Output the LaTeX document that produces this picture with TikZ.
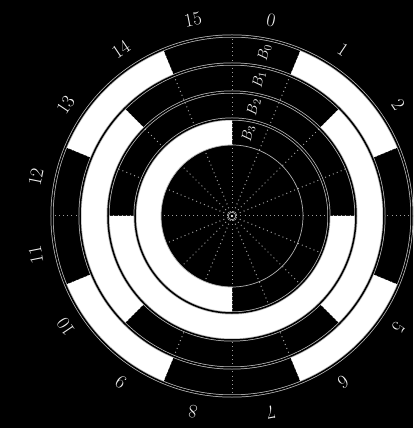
\documentclass[tikz,border=0pt]{standalone}
\begin{document}
\begin{tikzpicture}[x=1pt,y=1pt,
  ringline/.style={draw=gray!55!white, line width=0.75pt, double=black, double distance=1.5pt},
  ray/.style={draw=gray!75!white, line width=1pt, dash pattern=on 1pt off 3.2pt},
  num/.style={text=white!88!gray, inner sep=0pt, font=\fontsize{19}{19}\selectfont},
  blab/.style={text=white!88!gray, inner sep=0pt, font=\fontsize{15}{15}\selectfont}]
\fill[black] (-232,-212) rectangle (181,216);
\useasboundingbox (-232,-212) rectangle (181,216);
% dotted rays
\foreach \i in {0,...,15} \draw[ray] (0,0) -- (\i*22.5:180);
% white segments (bit = 1)
\foreach \ra/\rb/\a/\b in {
  152/180/67.5/22.5, 152/180/-22.5/-67.5, 152/180/-112.5/-157.5, 152/180/157.5/112.5,
  124/152/45/-45, 124/152/225/135,
  97/124/0/-180,
  71/97/-90/-270}
  \fill[white] (\a:\rb) arc[start angle=\a, end angle=\b, radius=\rb] -- (\b:\ra)
     arc[start angle=\b, end angle=\a, radius=\ra] -- cycle;
% track boundaries
\foreach \r in {180,152,124,97} \draw[ringline] (0,0) circle[radius=\r];
\draw[gray!60!white, line width=0.7pt] (0,0) circle[radius=71];
% center
\draw[gray!60!white, line width=0.7pt] (0,0) circle[radius=3.8];
\fill[white!90!gray] (0,0) circle[radius=1.1];
% sector numbers
\foreach \k in {0,...,15}
  \node[num, rotate={-(\k+0.5)*22.5}] (n\k) at ({90-(\k+0.5)*22.5}:200) {\k};
% track labels
\node[blab, rotate=78.75] (b0) at (78.75:167) {$B_0$};
\node[blab, rotate=78.75] (b1) at (78.75:139) {$B_1$};
\node[blab, rotate=78.75] (b2) at (78.75:111) {$B_2$};
\node[blab, rotate=78.75] (b3) at (78.75:84) {$B_3$};
\end{tikzpicture}
\end{document}
